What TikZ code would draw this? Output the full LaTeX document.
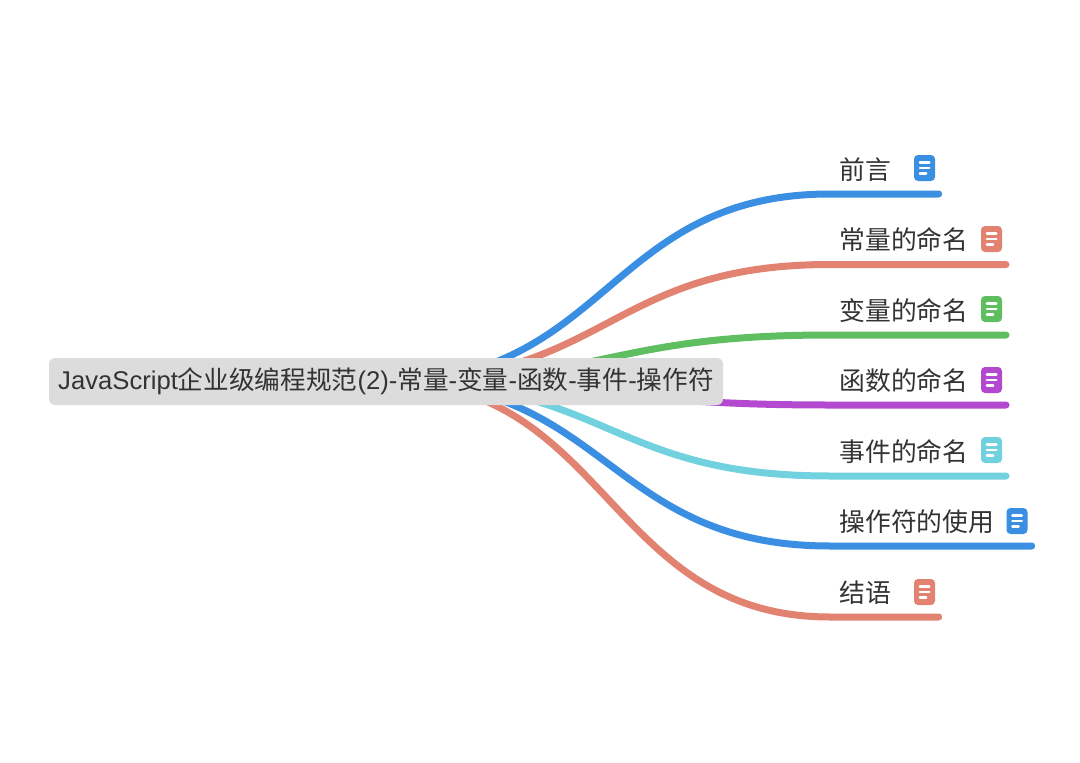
\documentclass[tikz,border=0pt]{standalone}
\usepackage{fontspec}
\setmainfont{Liberation Sans}
\newfontfamily\cjk{Noto Sans CJK SC}
\usetikzlibrary{backgrounds}
\definecolor{cblue}{HTML}{3B8FE3}
\definecolor{cred}{HTML}{E28270}
\definecolor{cgreen}{HTML}{5FBE5F}
\definecolor{cpurple}{HTML}{B249CF}
\definecolor{ccyan}{HTML}{72D1DE}
\definecolor{ctext}{HTML}{333333}
\definecolor{croot}{HTML}{DCDCDC}
\tikzset{
  x=1pt,y=-1pt,
  rootbox/.style={fill=croot,rounded corners=6pt,minimum width=674pt,minimum height=47pt,inner sep=0pt,text=ctext,font=\fontsize{25.65pt}{30pt}\selectfont},
  leaf/.style={anchor=west,inner sep=0pt,text=ctext,font=\fontsize{25.8pt}{30pt}\selectfont\cjk},
  branch/.style={draw=#1,line width=7pt,line cap=round},
  docicon/.style={fill=#1,rounded corners=4pt,minimum width=21pt,minimum height=26pt,inner sep=0pt,
    path picture={
      \draw[white,line width=2.6pt,line cap=round]
        ([xshift=-4.6pt,yshift=5.3pt]path picture bounding box.center) -- ++(9.4pt,0pt)
        ([xshift=-4.6pt,yshift=0pt]path picture bounding box.center) -- ++(9.4pt,0pt)
        ([xshift=-4.6pt,yshift=-5.7pt]path picture bounding box.center) -- ++(6.2pt,0pt);
    }},
}
\begin{document}
\begin{tikzpicture}
\useasboundingbox (0,0) rectangle (1080,763);
\node[rootbox] (root) at (386,381.5) {JavaScript{\cjk 企业级编程规范}(2)-{\cjk 常量}-{\cjk 变量}-{\cjk 函数}-{\cjk 事件}-{\cjk 操作符}};
\coordinate (ctrl) at (608,381);
% leaves
\node[leaf] (l1) at (839.2,170) {前言};
\node[leaf] (l2) at (839.2,240) {常量的命名};
\node[leaf] (l3) at (839.2,311) {变量的命名};
\node[leaf] (l4) at (839.2,381) {函数的命名};
\node[leaf] (l5) at (839.2,452) {事件的命名};
\node[leaf] (l6) at (839.2,522) {操作符的使用};
\node[leaf] (l7) at (839.2,592.5) {结语};
% icons
\node[docicon=cblue] (i1) at (924.5,168) {};
\node[docicon=cred] (i2) at (991.5,239) {};
\node[docicon=cgreen] (i3) at (991.5,309) {};
\node[docicon=cpurple] (i4) at (991.5,380) {};
\node[docicon=ccyan] (i5) at (991.5,450) {};
\node[docicon=cblue] (i6) at (1017,521) {};
\node[docicon=cred] (i7) at (924.5,592) {};
% branch joints and free ends
\coordinate (e1) at (830,194);   \coordinate (t1) at (938.7,194);
\coordinate (e2) at (830,264.5); \coordinate (t2) at (1006,264.5);
\coordinate (e3) at (830,335);   \coordinate (t3) at (1006,335);
\coordinate (e4) at (830,405);   \coordinate (t4) at (1006,405);
\coordinate (e5) at (830,476);   \coordinate (t5) at (1006,476);
\coordinate (e6) at (830,546);   \coordinate (t6) at (1031.7,546);
\coordinate (e7) at (830,617);   \coordinate (t7) at (938.7,617);
\begin{scope}[on background layer]
\draw[branch=cred] (root.center) .. controls (ctrl) and (ctrl |- e7) .. (e7) -- (t7);
\draw[branch=cblue] (root.center) .. controls (ctrl) and (ctrl |- e6) .. (e6) -- (t6);
\draw[branch=ccyan] (root.center) .. controls (ctrl) and (ctrl |- e5) .. (e5) -- (t5);
\draw[branch=cpurple] (root.center) .. controls (ctrl) and (ctrl |- e4) .. (e4) -- (t4);
\draw[branch=cgreen] (root.center) .. controls (ctrl) and (ctrl |- e3) .. (e3) -- (t3);
\draw[branch=cred] (root.center) .. controls (ctrl) and (ctrl |- e2) .. (e2) -- (t2);
\draw[branch=cblue] (root.center) .. controls (ctrl) and (ctrl |- e1) .. (e1) -- (t1);
\end{scope}
\end{tikzpicture}
\end{document}
